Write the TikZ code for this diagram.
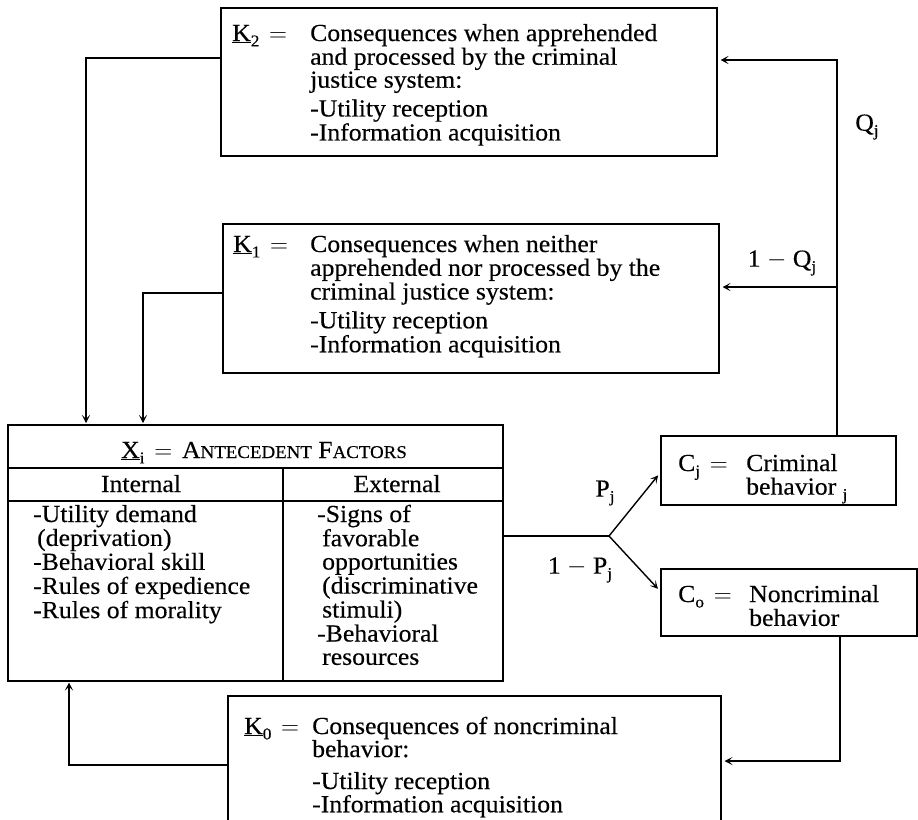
\documentclass[tikz,border=0pt]{standalone}
\usepackage{fontspec}
\setmainfont{Liberation Serif}[FakeStretch=1.05,FakeBold=0.3]
\usetikzlibrary{arrows.meta,calc}
\newcommand\sbs[1]{\raisebox{-0.22em}{\fontsize{16.5}{16}\selectfont #1}}
\newcommand\fsc[1]{{\fontsize{18}{18}\selectfont #1}}
\newcommand\eqs{\hspace{0.4em}$=$\hspace{0.4em}}
\newcommand\blk[2]{\fontsize{24.5}{#1}\selectfont\begin{tabular}[t]{@{}l@{}}#2\end{tabular}}
\begin{document}
\begin{tikzpicture}[x=1pt,y=-1pt,
  box/.style={draw,line width=1.5pt,inner sep=0pt,anchor=north west},
  txt/.style={inner sep=0pt,anchor=base west,font=\fontsize{24.5}{24}\selectfont},
  lbl/.style={inner sep=0pt,font=\fontsize{24.5}{24}\selectfont},
  conn/.style={line width=1.4pt},
  arr/.style={conn,-{Stealth[length=8pt,width=8pt,inset=4pt]},shorten >=3pt}]
\useasboundingbox (0,0) rectangle (918,819);
\clip (0,0) rectangle (918,819);
% boxes
\node[box,minimum width=496pt,minimum height=148pt] (k2) at (220,7) {};
\node[box,minimum width=496pt,minimum height=149pt] (k1) at (222,223) {};
\node[box,minimum width=495pt,minimum height=256pt] (x) at (7,424) {};
\node[box,minimum width=235pt,minimum height=69pt] (cj) at (660,435) {};
\node[box,minimum width=256pt,minimum height=67pt] (co) at (660,568) {};
\node[box,minimum width=493pt,minimum height=140pt] (k0) at (227,695) {};
% inner lines of X
\coordinate (h1) at (0,468);
\coordinate (h2) at (0,501);
\coordinate (vd) at (283,0);
\draw[line width=1.3pt] (x.west |- h1) -- (x.east |- h1);
\draw[line width=1.3pt] (x.west |- h2) -- (x.east |- h2);
\draw[line width=1.3pt] (vd |- h1) -- (vd |- x.south);
% K2 text
\node[txt] (k2a) at (232,41) {\underline{K}\sbs{2}\eqs};
\node[txt] (k2b) at (310,41) {\blk{22.5}{Consequences when apprehended\\ and processed by the criminal\\ justice system:\\[5pt] -Utility reception\\ -Information acquisition}};
% K1 text
\node[txt] (k1a) at (233,252) {\underline{K}\sbs{1}\eqs};
\node[txt] (k1b) at (310,252) {\blk{22.5}{Consequences when neither\\ apprehended nor processed by the\\ criminal justice system:\\[5pt] -Utility reception\\ -Information acquisition}};
% K0 text
\node[txt] (k0a) at (244,734) {\underline{K}\sbs{0}\eqs};
\node[txt] (k0b) at (312,734) {\blk{20}{Consequences of noncriminal\\ behavior:\\[9pt] -Utility reception\\ -Information acquisition}};
% X text
\node[lbl,anchor=base] (xh) at (264,458) {\underline{X}\sbs{i}\eqs A\fsc{NTECEDENT} F\fsc{ACTORS}};
\node[lbl,anchor=base] (xin) at (141,492) {Internal};
\node[lbl,anchor=base] (xex) at (397,492) {External};
\node[txt] (xil) at (33,522) {\blk{23}{-Utility demand\\ \hspace{4pt}(deprivation)\\ -Behavioral skill\\ -Rules of expedience\\ -Rules of morality}};
\node[txt] (xel) at (317,522) {\blk{23.3}{-Signs of\\ \hspace{5pt}favorable\\ \hspace{5pt}opportunities\\ \hspace{5pt}(discriminative\\ \hspace{5pt}stimuli)\\ -Behavioral\\ \hspace{5pt}resources}};
% C texts
\node[txt] (cja) at (678,471) {C\sbs{j}\eqs};
\node[txt] (cjb) at (746,471) {\blk{22}{Criminal\\ behavior \sbs{j}}};
\node[txt] (coa) at (678,602) {C\sbs{o}\eqs};
\node[txt] (cob) at (749,602) {\blk{23}{Noncriminal\\ behavior}};
% labels
\node[lbl] (qj) at (867,127) {Q\sbs{j}};
\node[lbl] (oqj) at (782,263) {1 $-$ Q\sbs{j}};
\node[lbl] (pj) at (605,493) {P\sbs{j}};
\node[lbl] (opj) at (580,570) {1 $-$ P\sbs{j}};
% connectors
\coordinate (q2) at (837,60);
\coordinate (q1) at (837,287);
\draw[arr] (cj.north -| q2) -- (q2) -- (q2 -| k2.east);
\draw[arr] (q1) -- (q1 -| k1.east);
\coordinate (a2) at (86,58);
\coordinate (a1) at (143,293);
\draw[arr,shorten >=1pt] (a2 -| k2.west) -- (a2) -- (a2 |- x.north);
\draw[arr,shorten >=1pt] (a1 -| k1.west) -- (a1) -- (a1 |- x.north);
\coordinate (br) at (609,536);
\coordinate (tj) at (660,473);
\coordinate (to) at (660,591);
\draw[conn] (br -| x.east) -- (br);
\draw[arr] (br) -- (tj);
\draw[arr] (br) -- (to);
\coordinate (c0) at (840,761);
\draw[arr] (co.south -| c0) -- (c0) -- (c0 -| k0.east);
\coordinate (b0) at (69,765);
\draw[arr,shorten >=1pt] (b0 -| k0.west) -- (b0) -- (b0 |- x.south);
\end{tikzpicture}
\end{document}
